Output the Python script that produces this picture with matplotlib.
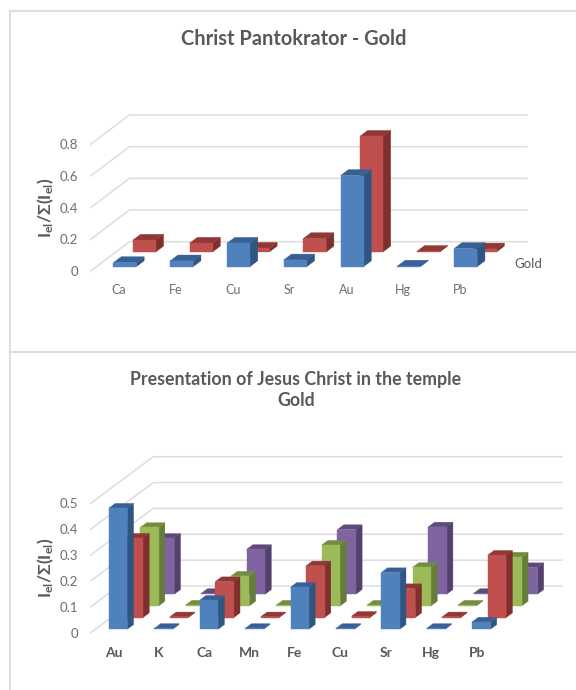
import matplotlib
matplotlib.use("Agg")
import matplotlib.pyplot as plt
from matplotlib.patches import Polygon

W, H = 576, 690
FONT = "Lato"
plt.rcParams["font.family"] = [FONT, "DejaVu Sans"]
plt.rcParams["mathtext.fontset"] = "custom"
plt.rcParams["mathtext.bf"] = "Lato:bold"
plt.rcParams["mathtext.rm"] = "Lato"
plt.rcParams["mathtext.default"] = "bf"

# Christ Pantokrator, normalised gold-region intensities
top_elements = ["Ca", "Fe", "Cu", "Sr", "Au", "Hg", "Pb"]
top_front = [0.025, 0.036, 0.147, 0.042, 0.575, 0.003, 0.114]
top_back = [0.074, 0.055, 0.023, 0.084, 0.730, 0.003, 0.019]
top_ticks = [0, 0.2, 0.4, 0.6, 0.8]

# Presentation of Jesus Christ in the temple, four gold measuring points
low_elements = ["Au", "K", "Ca", "Mn", "Fe", "Cu", "Sr", "Hg", "Pb"]
low_s1 = [0.468, 0.003, 0.112, 0.003, 0.162, 0.003, 0.219, 0.003, 0.028]
low_s2 = [0.307, 0.003, 0.139, 0.003, 0.200, 0.005, 0.112, 0.003, 0.241]
low_s3 = [0.303, 0.003, 0.115, 0.003, 0.235, 0.003, 0.149, 0.003, 0.189]
low_s4 = [0.216, 0.003, 0.173, 0.003, 0.250, 0.003, 0.260, 0.003, 0.103]
low_ticks = [0, 0.1, 0.2, 0.3, 0.4, 0.5]

BLUE = ("#4F81BD", "#2F5581", "#386094")
RED = ("#C0504D", "#7F2F2D", "#8F3835")
GREEN = ("#9BBB59", "#667C3A", "#748C42")
PURPLE = ("#8064A2", "#54406C", "#5F4A79")

GRID = "#DDDDDD"
TEXT = "#595959"
TICK = "#6E6E6E"


def oblique_chart(fig, left, base, cat_px, val_px, depth_px, elements, series,
                  ticks, tick_size, cat_size, cat_bold, cat_pad):
    """Draw clustered-in-depth bars on a sheared floor; axes units are categories and values."""
    n, m = len(elements), len(series)
    dx = depth_px[0] / cat_px      # shear per series, in categories
    dy = depth_px[1] / val_px      # shear per series, in value units
    xmax = n + m * dx
    ymax = ticks[-1] + m * dy
    ax = fig.add_axes([left / W, 1 - base / H,
                       xmax * cat_px / W, ymax * val_px / H])
    ax.set_xlim(0, xmax)
    ax.set_ylim(0, ymax)
    ax.patch.set_alpha(0)
    for s in ax.spines.values():
        s.set_visible(False)

    # Side-wall and back-wall gridlines
    for t in ticks:
        ax.plot([0, m * dx, xmax], [t, t + m * dy, t + m * dy], color=GRID,
                lw=1.1, clip_on=False, zorder=1, solid_joinstyle="miter")

    ax.set_yticks(ticks)
    ax.set_yticklabels([f"{t:g}" for t in ticks], fontsize=tick_size, color=TICK)
    for label in ax.get_yticklabels():
        label.set_verticalalignment("center_baseline")
    ax.set_xticks([i + 0.5 for i in range(n)])
    ax.set_xticklabels(elements, fontsize=cat_size, color=TICK if not cat_bold else TEXT,
                       fontweight="bold" if cat_bold else "normal")
    ax.tick_params(axis="y", length=0, pad=9)
    ax.tick_params(axis="x", length=0, pad=cat_pad)

    width, depth = 0.405, 0.40
    z = 2
    for sidx in range(m - 1, -1, -1):
        values, (front, side, roof) = series[sidx]
        d0 = sidx + (1 - depth) / 2
        d1 = d0 + depth
        for i, v in enumerate(values):
            x0 = i + (1 - width) / 2
            x1 = x0 + width

            def pt(x, d, h):
                return (x + d * dx, h + d * dy)

            faces = [
                ([pt(x1, d0, 0), pt(x1, d1, 0), pt(x1, d1, v), pt(x1, d0, v)], side),
                ([pt(x0, d0, v), pt(x1, d0, v), pt(x1, d1, v), pt(x0, d1, v)], roof),
                ([pt(x0, d0, 0), pt(x1, d0, 0), pt(x1, d0, v), pt(x0, d0, v)], front),
            ]
            for verts, col in faces:
                ax.add_patch(Polygon(verts, closed=True, facecolor=col, edgecolor=col,
                                     lw=0.3, clip_on=False, zorder=z))
            z += 1
    return ax


fig = plt.figure(figsize=(W / 100, H / 100), dpi=100, facecolor="white")

# Panel frame
frame = fig.add_axes([0, 0, 1, 1])
frame.set_xlim(0, W)
frame.set_ylim(H, 0)
frame.axis("off")
frame.plot([W, 9.7, 9.7], [11, 11, H], color="#DEDEDE", lw=1.5, solid_joinstyle="miter")
frame.plot([9.7, W], [352, 352], color="#DEDEDE", lw=1.5)

oblique_chart(fig, 90.7, 271, 56.8, 158.4, (19.35, 14.65), top_elements,
              [(top_front, BLUE), (top_back, RED)], top_ticks,
              tick_size=9.5, cat_size=9, cat_bold=False, cat_pad=9)
oblique_chart(fig, 90.7, 632.7, 45.4, 258.7, (15.65, 11.67), low_elements,
              [(low_s1, BLUE), (low_s2, RED), (low_s3, GREEN), (low_s4, PURPLE)], low_ticks,
              tick_size=9.5, cat_size=10, cat_bold=True, cat_pad=10.5)

frame.text(294, 39, "Christ Pantokrator - Gold", ha="center", va="center",
           fontsize=14.4, fontweight="bold", color=TEXT)
frame.text(296, 379, "Presentation of Jesus Christ in the temple", ha="center", va="center",
           fontsize=12.8, fontweight="bold", color=TEXT)
frame.text(296, 401, "Gold", ha="center", va="center",
           fontsize=12.8, fontweight="bold", color=TEXT)
frame.text(528, 264, "Gold", ha="center", va="center", fontsize=9.5, color=TEXT)

ylabel = r"$\mathbf{I_{el}/\Sigma(I_{el})}$"
frame.text(46, 208, ylabel, rotation=90, ha="center", va="center", fontsize=12.5, color=TEXT)
frame.text(46, 568, ylabel, rotation=90, ha="center", va="center", fontsize=12.5, color=TEXT)

fig.savefig("out.png", dpi=100)
